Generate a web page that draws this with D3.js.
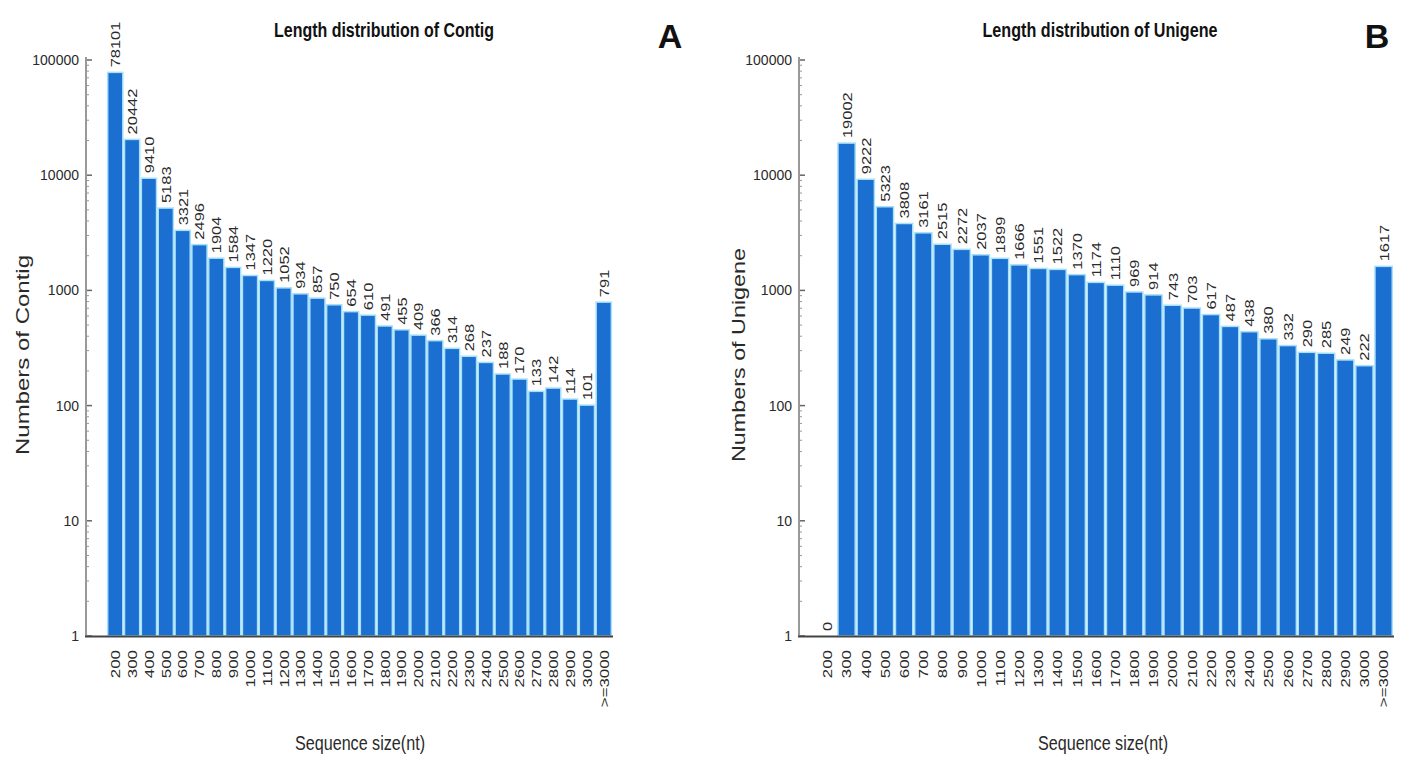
<!DOCTYPE html>
<html lang="en">
<head>
    <meta charset="UTF-8">
    <title>Length distribution</title>
    <script src="https://cdn.jsdelivr.net/npm/d3@7/dist/d3.min.js"></script>
    <style>
        body { margin: 0; background: #fff; }
        text { font-family: "Liberation Sans", Arial, sans-serif; fill: #2a2a2a; }
    </style>
</head>
<body>
<script>

    var categories = ["200", "300", "400", "500", "600", "700", "800", "900", "1000", "1100",
        "1200", "1300", "1400", "1500", "1600", "1700", "1800", "1900", "2000", "2100",
        "2200", "2300", "2400", "2500", "2600", "2700", "2800", "2900", "3000", ">=3000"];

    var contigCounts = [78101, 20442, 9410, 5183, 3321, 2496, 1904, 1584, 1347, 1220,
        1052, 934, 857, 750, 654, 610, 491, 455, 409, 366,
        314, 268, 237, 188, 170, 133, 142, 114, 101, 791];

    var unigeneCounts = [0, 19002, 9222, 5323, 3808, 3161, 2515, 2272, 2037, 1899,
        1666, 1551, 1522, 1370, 1174, 1110, 969, 914, 743, 703,
        617, 487, 438, 380, 332, 290, 285, 249, 222, 1617];

    var yTicks = [1, 10, 100, 1000, 10000, 100000];

    var svg = d3.select("body")
            .append("svg")
            .attr("width", 1404)
            .attr("height", 757);

    var panels = [
        {values: contigCounts, axisX: 86, range: [107, 612], title: "Length distribution of Contig",
            titleX: 384, titleLen: 220, letter: "A", letterX: 670, yLabel: "Numbers of Contig",
            yLabelX: 22, yLabelLen: 200, xLabelX: 360},
        {values: unigeneCounts, axisX: 799, range: [818, 1393], title: "Length distribution of Unigene",
            titleX: 1100, titleLen: 235, letter: "B", letterX: 1377, yLabel: "Numbers of Unigene",
            yLabelX: 738, yLabelLen: 214, xLabelX: 1103}
    ];

    var y = d3.scaleLog().domain([1, 100000]).range([636, 60]);

    panels.forEach(function(p) {
        var g = svg.append("g");

        var x = d3.scaleBand()
                .domain(categories)
                .range(p.range)
                .paddingInner(0.1)
                .paddingOuter(0.04);

        // minor + major ticks on the log axis
        var minor = [];
        for (var k = 0; k < 5; k++) {
            for (var m = 2; m < 10; m++) minor.push(m * Math.pow(10, k));
        }
        g.selectAll(".minor").data(minor).enter()
                .append("line").attr("class", "minor")
                .attr("x1", p.axisX).attr("x2", p.axisX + 3)
                .attr("y1", function(d) { return y(d); })
                .attr("y2", function(d) { return y(d); })
                .style("stroke", "#999").style("stroke-width", 1);

        g.selectAll(".major").data(yTicks).enter()
                .append("line").attr("class", "major")
                .attr("x1", p.axisX).attr("x2", p.axisX + 6)
                .attr("y1", function(d) { return y(d); })
                .attr("y2", function(d) { return y(d); })
                .style("stroke", "#666").style("stroke-width", 1.5);

        g.selectAll(".ytick").data(yTicks).enter()
                .append("text").attr("class", "ytick")
                .attr("x", p.axisX - 7)
                .attr("y", function(d) { return y(d); })
                .attr("text-anchor", "end")
                .attr("dominant-baseline", "central")
                .style("font-size", "14px")
                .text(function(d) { return d; });

        // bars
        g.selectAll(".bar").data(p.values).enter()
                .append("rect").attr("class", "bar")
                .attr("x", function(d, i) { return x(categories[i]); })
                .attr("width", x.bandwidth())
                .attr("y", function(d) { return y(Math.max(d, 1)); })
                .attr("height", function(d) { return y(1) - y(Math.max(d, 1)); })
                .style("fill", "#1a6fd0")
                .style("stroke", "#a6e0fa")
                .style("stroke-width", 1.5);

        // value labels
        g.selectAll(".val").data(p.values).enter()
                .append("text").attr("class", "val")
                .attr("transform", function(d, i) {
                    var cx = x(categories[i]) + x.bandwidth() / 2;
                    return "translate(" + cx + "," + (y(Math.max(d, 1)) - 5) + ") rotate(-90) scale(1.22,1)";
                })
                .attr("text-anchor", "start")
                .attr("dominant-baseline", "central")
                .style("font-size", "13.5px")
                .text(function(d) { return d; });

        // category labels
        g.selectAll(".xtick").data(categories).enter()
                .append("text").attr("class", "xtick")
                .attr("transform", function(d) {
                    return "translate(" + (x(d) + x.bandwidth() / 2) + ",650) rotate(-90) scale(1.25,1)";
                })
                .attr("text-anchor", "end")
                .attr("dominant-baseline", "central")
                .style("font-size", "13.5px")
                .text(function(d) { return d; });

        // axis lines
        g.append("line")
                .attr("x1", p.axisX).attr("x2", p.axisX)
                .attr("y1", 57).attr("y2", 637)
                .style("stroke", "#999").style("stroke-width", 2);
        g.append("line")
                .attr("x1", p.axisX - 1).attr("x2", p.range[1] + 1)
                .attr("y1", 636.5).attr("y2", 636.5)
                .style("stroke", "#444").style("stroke-width", 2.2);

        // titles
        g.append("text")
                .attr("x", p.titleX).attr("y", 37)
                .attr("text-anchor", "middle")
                .attr("textLength", p.titleLen)
                .attr("lengthAdjust", "spacingAndGlyphs")
                .style("font-size", "21px").style("font-weight", "bold")
                .style("fill", "#111")
                .text(p.title);

        g.append("text")
                .attr("x", p.letterX).attr("y", 48)
                .attr("text-anchor", "middle")
                .style("font-size", "34px").style("font-weight", "bold")
                .style("fill", "#111")
                .text(p.letter);

        g.append("text")
                .attr("transform", "translate(" + p.yLabelX + ",355) rotate(-90)")
                .attr("text-anchor", "middle")
                .attr("dominant-baseline", "central")
                .attr("textLength", p.yLabelLen)
                .attr("lengthAdjust", "spacingAndGlyphs")
                .style("font-size", "19px")
                .text(p.yLabel);

        g.append("text")
                .attr("x", p.xLabelX).attr("y", 750)
                .attr("text-anchor", "middle")
                .attr("textLength", 130)
                .attr("lengthAdjust", "spacingAndGlyphs")
                .style("font-size", "20px")
                .text("Sequence size(nt)");
    });

</script>

</body>
</html>
